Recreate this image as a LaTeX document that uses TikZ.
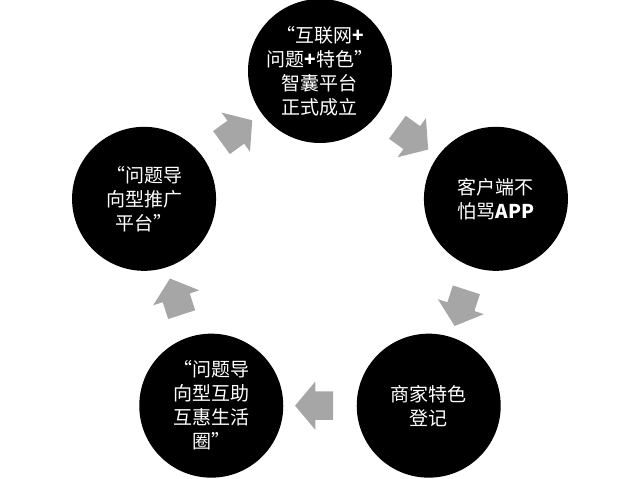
\documentclass[tikz,border=0pt]{standalone}
\usepackage{fontspec}
\setmainfont{Noto Sans CJK SC}
\usetikzlibrary{shapes.arrows}
\definecolor{arrowgray}{HTML}{A6A6A6}
\tikzset{
    stage/.style={
    circle,fill=black,text=white,minimum size=144pt,inner sep=0pt,align=center,
    font=\fontsize{19}{24}\selectfont
    },
    flow/.style={
    single arrow,fill=arrowgray,draw=none,inner xsep=0pt,inner ysep=14pt,
    minimum height=38pt,minimum width=48pt,single arrow head extend=10pt,
    single arrow tip angle=100,sloped,allow upside down
    },
}

\begin{document}
\begin{tikzpicture}
   \useasboundingbox (-320pt,-223pt) rectangle (320pt,256pt);
   \node[stage] (Hub) at (90:185pt) {“互联网\textbf{+}\\问题\textbf{+}特色”\\智囊平台\\正式成立};
   \node[stage] (App) at (18:185pt) {客户端不\\怕骂\textbf{APP}};
   \node[stage] (Shop) at (-54:185pt) {商家特色\\登记};
   \node[stage] (Help) at (234:185pt) {“问题导\\向型互助\\互惠生活\\圈”};
   \node[stage] (Promo) at (162:185pt) {“问题导\\向型推广\\平台”};

  \path
    (Hub) -- node[flow] {} (App)
    (App) -- node[flow] {} (Shop)
    (Shop) -- node[flow] {} (Help)
    (Help) -- node[flow] {} (Promo)
    (Promo) -- node[flow] {} (Hub);
\end{tikzpicture}
\end{document}
